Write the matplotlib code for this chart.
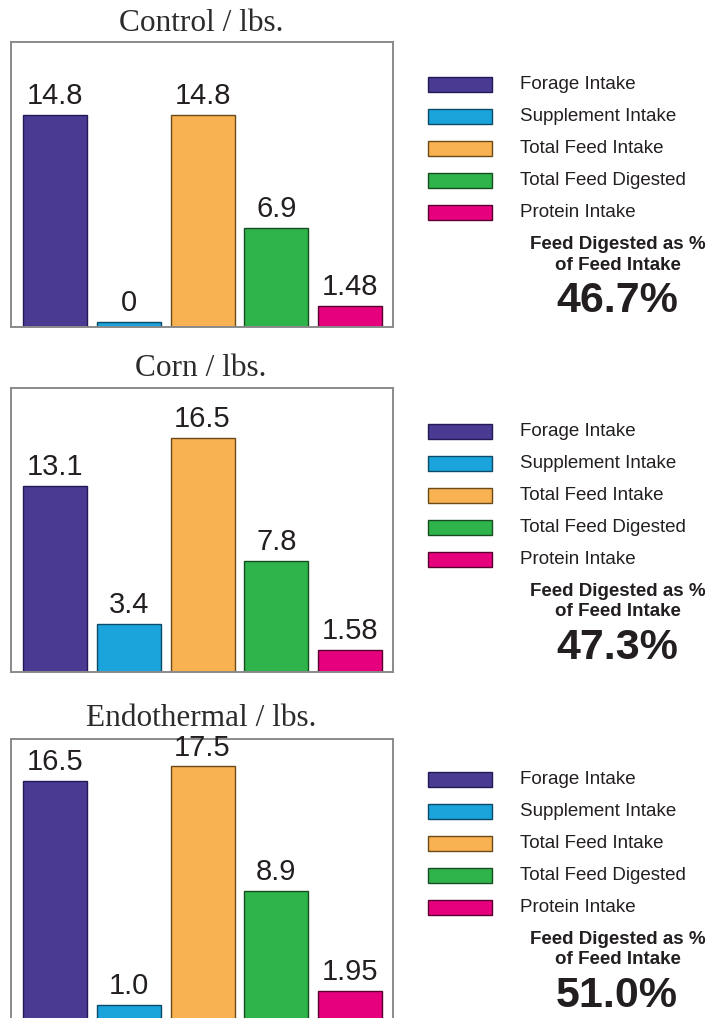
import matplotlib
matplotlib.use("Agg")
import matplotlib.pyplot as plt
from matplotlib.patches import Rectangle
import numpy as np

# data
titles = ["Control / lbs.", "Corn / lbs.", "Endothermal / lbs."]
categories = ["Forage Intake", "Supplement Intake", "Total Feed Intake",
              "Total Feed Digested", "Protein Intake"]
control = [14.8, 0, 14.8, 6.9, 1.48]
corn = [13.1, 3.4, 16.5, 7.8, 1.58]
endothermal = [16.5, 1.0, 17.5, 8.9, 1.95]
value_labels = [["14.8", "0", "14.8", "6.9", "1.48"],
                ["13.1", "3.4", "16.5", "7.8", "1.58"],
                ["16.5", "1.0", "17.5", "8.9", "1.95"]]
digest_pct = ["46.7%", "47.3%", "51.0%"]

colors = ["#4b3a92", "#1ba3dc", "#f9b252", "#2fb34b", "#e6007e"]
edges = ["#231a55", "#0c4a66", "#6b4a1a", "#174d20", "#5a0030"]

W, H = 712, 1018
fig = plt.figure(figsize=(W / 100, H / 100), dpi=100)

def px_axes(left, top, right, bottom):
    return fig.add_axes([left / W, 1 - bottom / H, (right - left) / W, (bottom - top) / H])

# panel boxes in pixels (left, top, right, bottom) and y limits
boxes = [(11, 42, 393, 327), (11, 388, 393, 672), (11, 739, 393, 1019)]
ytops = [19.9, 20.0, 19.4]
title_y = [23, 369, 718]
legend_y0 = [84, 431, 779]

series = [control, corn, endothermal]
x = np.arange(len(categories))

for i, vals in enumerate(series):
    ax = px_axes(*boxes[i])
    shown = np.maximum(vals, 0.35)  # keep a zero bar visible as a thin sliver
    ax.bar(x, shown, width=0.868, color=colors, edgecolor=edges, linewidth=1.0)
    for xi, h, lab in zip(x, shown, value_labels[i]):
        ax.annotate(lab, (xi, h), xytext=(0, 3.5), textcoords="offset points",
                    ha="center", va="bottom", fontsize=21,
                    family="Liberation Sans", color="#231f20")
    ax.set_xlim(-0.597, 4.583)
    ax.set_ylim(0, ytops[i])
    ax.set_xticks([])
    ax.set_yticks([])
    for s in ax.spines.values():
        s.set_color("#8a8a8a")
        s.set_linewidth(1.4)
    if i == 2:
        ax.spines["bottom"].set_visible(False)

# overlay in pixel coordinates for titles and legends
ov = fig.add_axes([0, 0, 1, 1])
ov.set_xlim(0, W)
ov.set_ylim(H, 0)
ov.axis("off")
ov.patch.set_alpha(0)

for i in range(3):
    ov.text(201, title_y[i], titles[i], ha="center", va="center",
            fontsize=22.5, family="Liberation Serif", color="#2b2b2b")
    for k, name in enumerate(categories):
        yc = legend_y0[i] + k * 32.2
        ov.add_patch(Rectangle((428, yc - 7.5), 64, 15, facecolor=colors[k],
                               edgecolor=edges[k], linewidth=1.0))
        ov.text(520, yc, name, ha="left", va="center", fontsize=13.5,
                family="Liberation Sans", color="#231f20")
    y_note = legend_y0[i] + 160
    ov.text(618, y_note, "Feed Digested as %", ha="center", va="center",
            fontsize=13.5, fontweight="bold", family="Liberation Sans", color="#231f20")
    ov.text(618, y_note + 21, "of Feed Intake", ha="center", va="center",
            fontsize=13.5, fontweight="bold", family="Liberation Sans", color="#231f20")
    ov.text(617, y_note + 57, digest_pct[i], ha="center", va="center",
            fontsize=31, fontweight="bold", family="Liberation Sans", color="#231f20")

fig.savefig("out.png", dpi=100, facecolor="white")
